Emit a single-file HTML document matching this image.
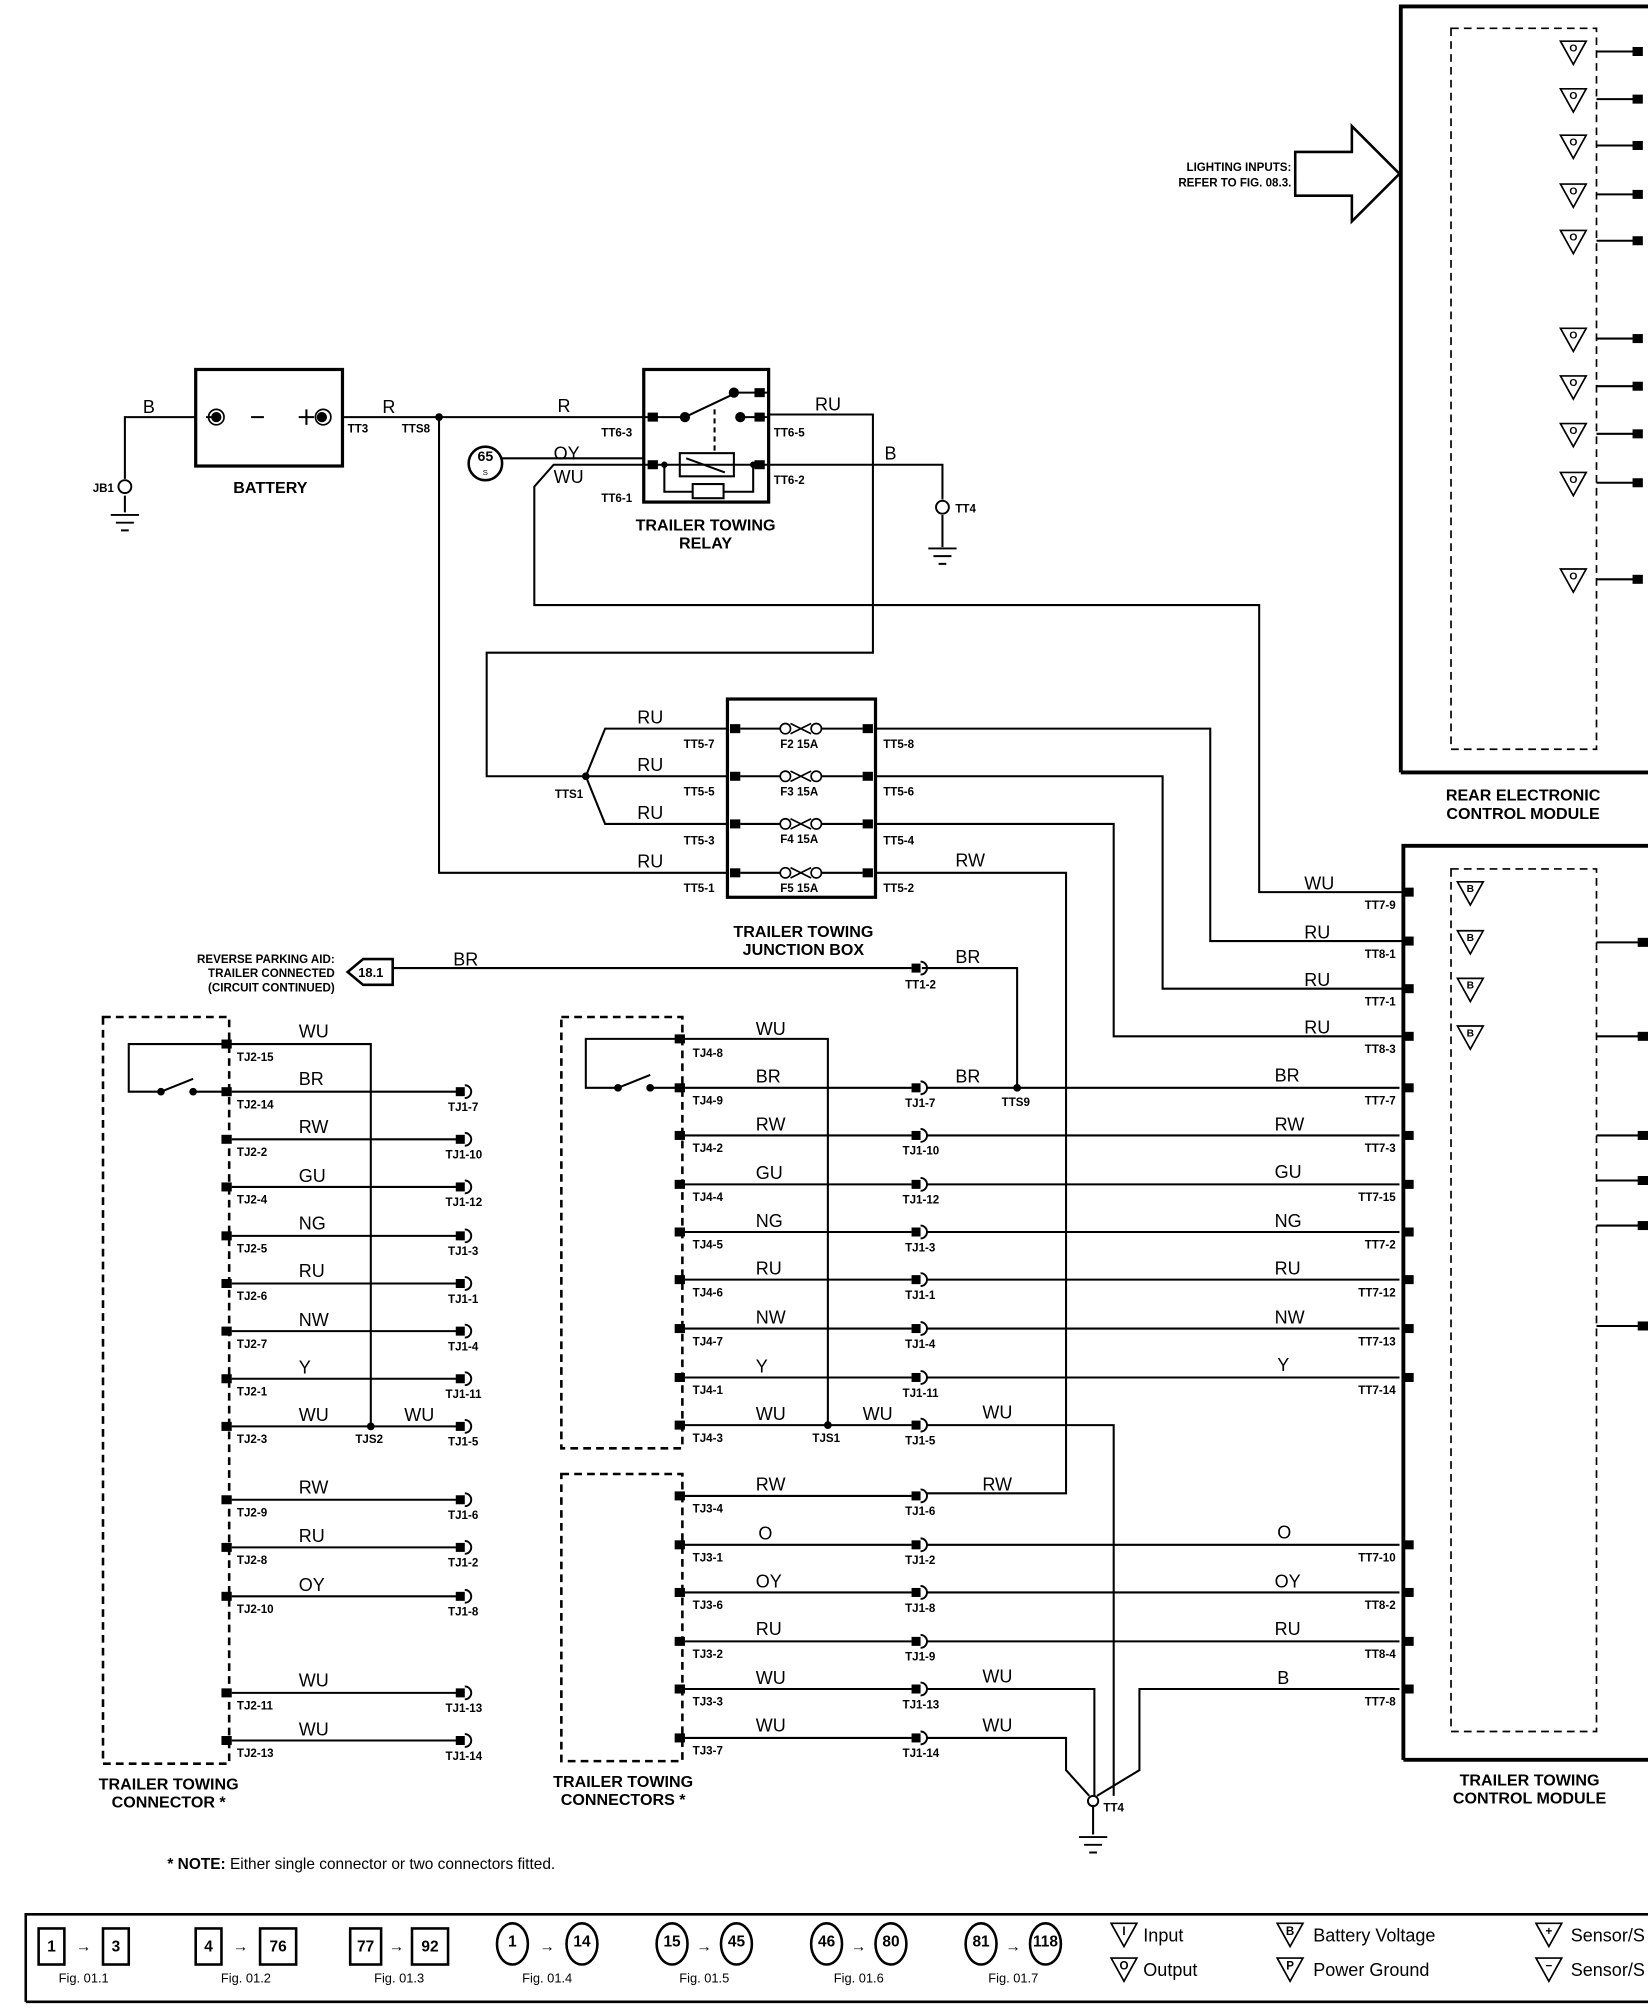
<!DOCTYPE html>
<html><head><meta charset="utf-8"><style>
html,body{margin:0;padding:0;background:#fff;}
svg{display:block;}
text{font-family:"Liberation Sans",sans-serif;fill:#000;}
.w{font-size:14px;}
.p{font-size:9px;font-weight:bold;}
.t{font-size:12.5px;font-weight:bold;}
.l{font-size:13px;}
</style></head><body>
<svg width="1648" height="2016" viewBox="0 0 1280 1566" preserveAspectRatio="none" xmlns="http://www.w3.org/2000/svg">
<defs>
<g id="c"><rect x="-6" y="-3.5" width="7" height="7" fill="#000"/><path d="M1,-5 A5,5 0 0 1 1,5" fill="none" stroke="#000" stroke-width="1.5"/></g>
<g id="p"><rect x="-4" y="-3.5" width="8" height="7" fill="#000"/></g>
<g id="g" fill="none" stroke="#000" stroke-width="1.5"><path d="M-11,0H11M-7,6H7M-3,12H3"/></g>
<g id="tri"><path d="M-10,-8H10L0,10Z" fill="none" stroke="#000" stroke-width="1.3"/></g>
<g id="f" fill="none" stroke="#000" stroke-width="1.3"><circle cx="-12" cy="0" r="4"/><circle cx="12" cy="0" r="4"/><path d="M-8,-4L8,4M-8,4L8,-4"/></g>
</defs>
<g fill="none" stroke="#000" stroke-width="1.6">
<path d="M1088,600V5H1280" stroke-width="3"/>
<path d="M1088,600H1280" stroke-width="3"/>
<rect x="1127" y="22" width="113" height="560" stroke-dasharray="6,4" stroke-width="1.3"/>
<path d="M1240,40H1270M1240,77H1270M1240,113H1270M1240,151H1270M1240,187H1270M1240,263H1270M1240,300H1270M1240,337H1270M1240,375H1270M1240,450H1270"/>
<path d="M1006,118H1050V98L1087,135L1050,172V152H1006Z" stroke-width="2"/>
<path d="M1090,1367V657H1280M1090,1367H1280" stroke-width="3"/>
<rect x="1127" y="675" width="113" height="670" stroke-dasharray="6,4" stroke-width="1.3"/>
<path d="M1240,732H1275M1240,805H1275M1240,882H1275M1240,917H1275M1240,952H1275M1240,1030H1275"/>
<rect x="152" y="287" width="114" height="75" stroke-width="2.5"/>
<path d="M97,372V324H152M97,385V398"/>
<path d="M160,324H165M232,324H244M238,318V330M195,324H205"/>
<path d="M266,324H500"/>
<path d="M341,324V678H565"/>
<rect x="500" y="287" width="97" height="103" stroke-width="2.5"/>
<path d="M500,324H532L570,306M570,305H597M575,324H597M500,361H597" />
<path d="M555,318V350" stroke-dasharray="4,3"/>
<rect x="528" y="352" width="42" height="18"/>
<path d="M533,356L563,367"/>
<path d="M516,361V382H538M562,382H585V361"/>
<rect x="538" y="376" width="24" height="11"/>
<path d="M597,322H678V507H378V603H455"/>
<path d="M597,361H732V388M732,400V425"/>
<path d="M390,356H500"/>
<path d="M500,361H430L415,378V470H978V693H1090"/>
<rect x="565" y="543" width="115" height="154" stroke-width="2.5"/>
<path d="M455,603L470,566H565M455,603H565M455,603L470,640H565"/>
<path d="M575,566H606M638,566H670M575,603H606M638,603H670M575,640H606M638,640H670M575,678H606M638,678H670"/>
<path d="M680,566H940V731H1090M680,603H903V768H1090M680,640H865V805H1090M680,678H828V1160H720"/>
<path d="M305,752H708M716,752H790V845"/>
<path d="M270,755L282,745H305V765H282Z" stroke-width="2"/>
<rect x="80" y="790" width="98" height="580" stroke-dasharray="6,4" stroke-width="2"/>
<path d="M175,811H288V1108M175,811H100V848H125L150,838M150,848H175"/>
<path d="M180,848H355M180,885H355M180,922H355M180,960H355M180,997H355M180,1034H355M180,1071H355M180,1108H355M180,1165H355M180,1202H355M180,1240H355M180,1315H355M180,1352H355"/>
<rect x="436" y="790" width="94" height="335" stroke-dasharray="6,4" stroke-width="2"/>
<rect x="436" y="1145" width="94" height="223" stroke-dasharray="6,4" stroke-width="2"/>
<path d="M527,807H643V1107M527,807H455V845H480L505,835M505,845H527"/>
<path d="M532,845H708M532,882H708M532,920H708M532,957H708M532,994H708M532,1032H708M532,1070H708M532,1107H708M532,1162H708M532,1200H708M532,1237H708M532,1275H708M532,1312H708M532,1350H708"/>
<path d="M720,845H1087M720,882H1087M720,920H1087M720,957H1087M720,994H1087M720,1032H1087M720,1070H1087M720,1200H1087M720,1237H1087M720,1275H1087"/>
<path d="M720,1107H865V1395M720,1312H850V1395M720,1350H828V1375L846,1395M1087,1312H885V1375L852,1395M849,1402V1425"/>
</g>
<use href="#f" x="622" y="566"/><use href="#f" x="622" y="603"/><use href="#f" x="622" y="640"/><use href="#f" x="622" y="678"/>
<g fill="#000">
<circle cx="341" cy="324" r="3"/><circle cx="455" cy="603" r="3"/><circle cx="790" cy="845" r="3"/>
<circle cx="288" cy="1108" r="3"/><circle cx="643" cy="1107" r="3"/>
<circle cx="532" cy="324" r="4"/><circle cx="570" cy="305" r="4"/><circle cx="575" cy="324" r="4"/><circle cx="516" cy="361" r="2.5"/><circle cx="585" cy="361" r="2.5"/>
<circle cx="125" cy="848" r="3"/><circle cx="150" cy="848" r="3"/><circle cx="480" cy="845" r="3"/><circle cx="505" cy="845" r="3"/>
<circle cx="168" cy="324" r="4"/><circle cx="250" cy="324" r="4"/>
</g>
<circle cx="168" cy="324" r="6" fill="none" stroke="#000" stroke-width="1.3"/>
<circle cx="251" cy="324" r="6" fill="none" stroke="#000" stroke-width="1.3"/>
<circle cx="97" cy="378" r="5" fill="none" stroke="#000" stroke-width="1.5"/>
<circle cx="732" cy="394" r="5" fill="none" stroke="#000" stroke-width="1.5"/>
<circle cx="849" cy="1399" r="4" fill="none" stroke="#000" stroke-width="1.5"/>
<use href="#g" x="97" y="400"/><use href="#g" x="732" y="426"/><use href="#g" x="849" y="1427"/>
<use href="#p" x="507" y="324"/><use href="#p" x="507" y="361"/><use href="#p" x="590" y="324"/><use href="#p" x="590" y="305"/><use href="#p" x="590" y="361"/>
<circle cx="377" cy="360" r="13" fill="none" stroke="#000" stroke-width="2"/>
<use href="#p" x="571" y="566"/><use href="#p" x="571" y="603"/><use href="#p" x="571" y="640"/><use href="#p" x="571" y="678"/>
<use href="#p" x="674" y="566"/><use href="#p" x="674" y="603"/><use href="#p" x="674" y="640"/><use href="#p" x="674" y="678"/>
<g>
<use href="#p" x="1272" y="40"/><use href="#p" x="1272" y="77"/><use href="#p" x="1272" y="113"/><use href="#p" x="1272" y="151"/><use href="#p" x="1272" y="187"/><use href="#p" x="1272" y="263"/><use href="#p" x="1272" y="300"/><use href="#p" x="1272" y="337"/><use href="#p" x="1272" y="375"/><use href="#p" x="1272" y="450"/>
<use href="#tri" x="1222" y="40"/><use href="#tri" x="1222" y="77"/><use href="#tri" x="1222" y="113"/><use href="#tri" x="1222" y="151"/><use href="#tri" x="1222" y="187"/><use href="#tri" x="1222" y="263"/><use href="#tri" x="1222" y="300"/><use href="#tri" x="1222" y="337"/><use href="#tri" x="1222" y="375"/><use href="#tri" x="1222" y="450"/>
<use href="#tri" x="1142" y="693"/><use href="#tri" x="1142" y="731"/><use href="#tri" x="1142" y="768"/><use href="#tri" x="1142" y="805"/>
<use href="#p" x="1276" y="732"/><use href="#p" x="1276" y="805"/><use href="#p" x="1276" y="882"/><use href="#p" x="1276" y="917"/><use href="#p" x="1276" y="952"/><use href="#p" x="1276" y="1030"/>
</g>
<g font-size="8" font-weight="bold" text-anchor="middle">
<text x="1222" y="40">O</text><text x="1222" y="77">O</text><text x="1222" y="113">O</text><text x="1222" y="151">O</text><text x="1222" y="187">O</text><text x="1222" y="263">O</text><text x="1222" y="300">O</text><text x="1222" y="337">O</text><text x="1222" y="375">O</text><text x="1222" y="450">O</text>
<text x="1142" y="693">B</text><text x="1142" y="731">B</text><text x="1142" y="768">B</text><text x="1142" y="805">B</text>
</g>
<g>
<use href="#p" x="1094" y="693"/><use href="#p" x="1094" y="731"/><use href="#p" x="1094" y="768"/><use href="#p" x="1094" y="805"/><use href="#p" x="1094" y="845"/><use href="#p" x="1094" y="882"/><use href="#p" x="1094" y="920"/><use href="#p" x="1094" y="957"/><use href="#p" x="1094" y="994"/><use href="#p" x="1094" y="1032"/><use href="#p" x="1094" y="1070"/><use href="#p" x="1094" y="1200"/><use href="#p" x="1094" y="1237"/><use href="#p" x="1094" y="1275"/><use href="#p" x="1094" y="1312"/>
</g>
<g>
<use href="#p" x="176" y="811"/><use href="#p" x="176" y="848"/><use href="#p" x="176" y="885"/><use href="#p" x="176" y="922"/><use href="#p" x="176" y="960"/><use href="#p" x="176" y="997"/><use href="#p" x="176" y="1034"/><use href="#p" x="176" y="1071"/><use href="#p" x="176" y="1108"/><use href="#p" x="176" y="1165"/><use href="#p" x="176" y="1202"/><use href="#p" x="176" y="1240"/><use href="#p" x="176" y="1315"/><use href="#p" x="176" y="1352"/>
<use href="#c" x="360" y="848"/><use href="#c" x="360" y="885"/><use href="#c" x="360" y="922"/><use href="#c" x="360" y="960"/><use href="#c" x="360" y="997"/><use href="#c" x="360" y="1034"/><use href="#c" x="360" y="1071"/><use href="#c" x="360" y="1108"/><use href="#c" x="360" y="1165"/><use href="#c" x="360" y="1202"/><use href="#c" x="360" y="1240"/><use href="#c" x="360" y="1315"/><use href="#c" x="360" y="1352"/>
<use href="#p" x="528" y="807"/><use href="#p" x="528" y="845"/><use href="#p" x="528" y="882"/><use href="#p" x="528" y="920"/><use href="#p" x="528" y="957"/><use href="#p" x="528" y="994"/><use href="#p" x="528" y="1032"/><use href="#p" x="528" y="1070"/><use href="#p" x="528" y="1107"/><use href="#p" x="528" y="1162"/><use href="#p" x="528" y="1200"/><use href="#p" x="528" y="1237"/><use href="#p" x="528" y="1275"/><use href="#p" x="528" y="1312"/><use href="#p" x="528" y="1350"/>
<use href="#c" x="714" y="752"/><use href="#c" x="714" y="845"/><use href="#c" x="714" y="882"/><use href="#c" x="714" y="920"/><use href="#c" x="714" y="957"/><use href="#c" x="714" y="994"/><use href="#c" x="714" y="1032"/><use href="#c" x="714" y="1070"/><use href="#c" x="714" y="1107"/><use href="#c" x="714" y="1162"/><use href="#c" x="714" y="1200"/><use href="#c" x="714" y="1237"/><use href="#c" x="714" y="1275"/><use href="#c" x="714" y="1312"/><use href="#c" x="714" y="1350"/>
</g>
<g class="t" text-anchor="middle">
<text x="210" y="383">BATTERY</text>
<text x="548" y="412">TRAILER TOWING</text><text x="548" y="426">RELAY</text>
<text x="624" y="728">TRAILER TOWING</text><text x="624" y="742">JUNCTION BOX</text>
<text x="1183" y="622">REAR ELECTRONIC</text><text x="1183" y="636">CONTROL MODULE</text>
<text x="1188" y="1387">TRAILER TOWING</text><text x="1188" y="1401">CONTROL MODULE</text>
<text x="131" y="1390">TRAILER TOWING</text><text x="131" y="1404">CONNECTOR *</text>
<text x="484" y="1388">TRAILER TOWING</text><text x="484" y="1402">CONNECTORS *</text>
</g>
<g font-size="9" font-weight="bold" text-anchor="end">
<text x="1003" y="133">LIGHTING INPUTS:</text><text x="1003" y="145">REFER TO FIG. 08.3.</text>
<text x="260" y="748">REVERSE PARKING AID:</text><text x="260" y="759">TRAILER CONNECTED</text><text x="260" y="770">(CIRCUIT CONTINUED)</text>
</g>
<text x="288" y="759" font-size="10" font-weight="bold" text-anchor="middle">18.1</text>
<text x="377" y="358" font-size="11" font-weight="bold" text-anchor="middle">65</text><text x="377" y="369" font-size="6" text-anchor="middle">S</text>
<g class="w">
<text x="111" y="321">B</text><text x="297" y="321">R</text><text x="433" y="320">R</text><text x="633" y="319">RU</text><text x="687" y="357">B</text>
<text x="430" y="357">OY</text><text x="430" y="375">WU</text>
<text x="495" y="562">RU</text><text x="495" y="599">RU</text><text x="495" y="636">RU</text><text x="495" y="674">RU</text><text x="742" y="673">RW</text>
<text x="352" y="750">BR</text><text x="742" y="748">BR</text>
<text x="1013" y="691">WU</text><text x="1013" y="729">RU</text><text x="1013" y="766">RU</text><text x="1013" y="803">RU</text>
<text x="232" y="806">WU</text><text x="232" y="843">BR</text><text x="232" y="880">RW</text><text x="232" y="918">GU</text><text x="232" y="955">NG</text><text x="232" y="992">RU</text><text x="232" y="1030">NW</text><text x="232" y="1067">Y</text><text x="232" y="1104">WU</text><text x="314" y="1104">WU</text><text x="232" y="1160">RW</text><text x="232" y="1198">RU</text><text x="232" y="1236">OY</text><text x="232" y="1310">WU</text><text x="232" y="1348">WU</text>
<text x="587" y="804">WU</text><text x="587" y="841">BR</text><text x="587" y="878">RW</text><text x="587" y="916">GU</text><text x="587" y="953">NG</text><text x="587" y="990">RU</text><text x="587" y="1028">NW</text><text x="587" y="1066">Y</text><text x="587" y="1103">WU</text><text x="670" y="1103">WU</text><text x="763" y="1102">WU</text>
<text x="742" y="841">BR</text>
<text x="587" y="1158">RW</text><text x="763" y="1158">RW</text><text x="589" y="1196">O</text><text x="587" y="1233">OY</text><text x="587" y="1270">RU</text><text x="587" y="1308">WU</text><text x="763" y="1307">WU</text><text x="587" y="1345">WU</text><text x="763" y="1345">WU</text>
<text x="990" y="840">BR</text><text x="990" y="878">RW</text><text x="990" y="915">GU</text><text x="990" y="953">NG</text><text x="990" y="990">RU</text><text x="990" y="1028">NW</text><text x="992" y="1065">Y</text><text x="992" y="1195">O</text><text x="990" y="1233">OY</text><text x="990" y="1270">RU</text><text x="992" y="1308">B</text>
</g>
<g class="p">
<text x="72" y="382">JB1</text><text x="270" y="336">TT3</text><text x="312" y="336">TTS8</text>
<text x="467" y="339">TT6-3</text><text x="467" y="390">TT6-1</text><text x="601" y="339">TT6-5</text><text x="601" y="376">TT6-2</text><text x="742" y="398">TT4</text>
<text x="431" y="620">TTS1</text>
<text x="531" y="581">TT5-7</text><text x="531" y="618">TT5-5</text><text x="531" y="656">TT5-3</text><text x="531" y="693">TT5-1</text>
<text x="686" y="581">TT5-8</text><text x="686" y="618">TT5-6</text><text x="686" y="656">TT5-4</text><text x="686" y="693">TT5-2</text>
<text x="606" y="581">F2 15A</text><text x="606" y="618">F3 15A</text><text x="606" y="655">F4 15A</text><text x="606" y="693">F5 15A</text>
<text x="703" y="768">TT1-2</text><text x="778" y="859">TTS9</text>
<text x="184" y="824">TJ2-15</text><text x="184" y="861">TJ2-14</text><text x="184" y="898">TJ2-2</text><text x="184" y="935">TJ2-4</text><text x="184" y="973">TJ2-5</text><text x="184" y="1010">TJ2-6</text><text x="184" y="1047">TJ2-7</text><text x="184" y="1084">TJ2-1</text><text x="184" y="1121">TJ2-3</text><text x="184" y="1178">TJ2-9</text><text x="184" y="1215">TJ2-8</text><text x="184" y="1253">TJ2-10</text><text x="184" y="1328">TJ2-11</text><text x="184" y="1365">TJ2-13</text>
<text x="276" y="1121">TJS2</text><text x="631" y="1120">TJS1</text>
<text x="348" y="863">TJ1-7</text><text x="346" y="900">TJ1-10</text><text x="346" y="937">TJ1-12</text><text x="348" y="975">TJ1-3</text><text x="348" y="1012">TJ1-1</text><text x="348" y="1049">TJ1-4</text><text x="346" y="1086">TJ1-11</text><text x="348" y="1123">TJ1-5</text><text x="348" y="1180">TJ1-6</text><text x="348" y="1217">TJ1-2</text><text x="348" y="1255">TJ1-8</text><text x="346" y="1330">TJ1-13</text><text x="346" y="1367">TJ1-14</text>
<text x="538" y="821">TJ4-8</text><text x="538" y="858">TJ4-9</text><text x="538" y="895">TJ4-2</text><text x="538" y="933">TJ4-4</text><text x="538" y="970">TJ4-5</text><text x="538" y="1007">TJ4-6</text><text x="538" y="1045">TJ4-7</text><text x="538" y="1083">TJ4-1</text><text x="538" y="1120">TJ4-3</text>
<text x="538" y="1175">TJ3-4</text><text x="538" y="1213">TJ3-1</text><text x="538" y="1250">TJ3-6</text><text x="538" y="1288">TJ3-2</text><text x="538" y="1325">TJ3-3</text><text x="538" y="1363">TJ3-7</text>
<text x="703" y="860">TJ1-7</text><text x="701" y="897">TJ1-10</text><text x="701" y="935">TJ1-12</text><text x="703" y="972">TJ1-3</text><text x="703" y="1009">TJ1-1</text><text x="703" y="1047">TJ1-4</text><text x="701" y="1085">TJ1-11</text><text x="703" y="1122">TJ1-5</text><text x="703" y="1177">TJ1-6</text><text x="703" y="1215">TJ1-2</text><text x="703" y="1252">TJ1-8</text><text x="703" y="1290">TJ1-9</text><text x="701" y="1327">TJ1-13</text><text x="701" y="1365">TJ1-14</text>
<text x="857" y="1407">TT4</text>
</g>
<g class="p" text-anchor="end">
<text x="1084" y="706">TT7-9</text><text x="1084" y="744">TT8-1</text><text x="1084" y="781">TT7-1</text><text x="1084" y="818">TT8-3</text><text x="1084" y="858">TT7-7</text><text x="1084" y="895">TT7-3</text><text x="1084" y="933">TT7-15</text><text x="1084" y="970">TT7-2</text><text x="1084" y="1007">TT7-12</text><text x="1084" y="1045">TT7-13</text><text x="1084" y="1083">TT7-14</text><text x="1084" y="1213">TT7-10</text><text x="1084" y="1250">TT8-2</text><text x="1084" y="1288">TT8-4</text><text x="1084" y="1325">TT7-8</text>
</g>
<text x="130" y="1452" font-size="12"><tspan font-weight="bold">* NOTE:</tspan> Either single connector or two connectors fitted.</text>
<path d="M20,1555V1487H1280M20,1555H1280" fill="none" stroke="#000" stroke-width="2"/>
<g fill="none" stroke="#000" stroke-width="2">
<rect x="30" y="1498" width="20" height="28"/><rect x="80" y="1498" width="20" height="28"/>
<rect x="152" y="1498" width="20" height="28"/><rect x="202" y="1498" width="28" height="28"/>
<rect x="272" y="1498" width="24" height="28"/><rect x="320" y="1498" width="28" height="28"/>
<ellipse cx="398" cy="1510" rx="12" ry="16"/><ellipse cx="452" cy="1510" rx="12" ry="16"/>
<ellipse cx="522" cy="1510" rx="12" ry="16"/><ellipse cx="572" cy="1510" rx="12" ry="16"/>
<ellipse cx="642" cy="1510" rx="12" ry="16"/><ellipse cx="692" cy="1510" rx="12" ry="16"/>
<ellipse cx="762" cy="1510" rx="12" ry="16"/><ellipse cx="812" cy="1510" rx="12" ry="16"/>
</g>
<g fill="#000" font-size="12" font-weight="bold" text-anchor="middle">
<text x="40" y="1516">1</text><text x="90" y="1516">3</text><text x="162" y="1516">4</text><text x="216" y="1516">76</text><text x="284" y="1516">77</text><text x="334" y="1516">92</text>
<text x="398" y="1512">1</text><text x="452" y="1512">14</text><text x="522" y="1512">15</text><text x="572" y="1512">45</text><text x="642" y="1512">46</text><text x="692" y="1512">80</text><text x="762" y="1512">81</text><text x="812" y="1512">118</text>
<text x="65" y="1516">→</text><text x="187" y="1516">→</text><text x="308" y="1516">→</text><text x="425" y="1516">→</text><text x="547" y="1516">→</text><text x="667" y="1516">→</text><text x="787" y="1516">→</text>
</g>
<g font-size="10" text-anchor="middle">
<text x="65" y="1540">Fig. 01.1</text><text x="191" y="1540">Fig. 01.2</text><text x="310" y="1540">Fig. 01.3</text><text x="425" y="1540">Fig. 01.4</text><text x="547" y="1540">Fig. 01.5</text><text x="667" y="1540">Fig. 01.6</text><text x="787" y="1540">Fig. 01.7</text>
</g>
<use href="#tri" x="873" y="1502"/><use href="#tri" x="873" y="1529"/><use href="#tri" x="1002" y="1502"/><use href="#tri" x="1002" y="1529"/><use href="#tri" x="1203" y="1502"/><use href="#tri" x="1203" y="1529"/>
<g font-size="9" font-weight="bold" text-anchor="middle"><text x="873" y="1503">I</text><text x="873" y="1530">O</text><text x="1002" y="1503">B</text><text x="1002" y="1530">P</text><text x="1203" y="1503">+</text><text x="1203" y="1530">−</text></g>
<g font-size="14"><text x="888" y="1508">Input</text><text x="888" y="1535">Output</text><text x="1020" y="1508">Battery Voltage</text><text x="1020" y="1535">Power Ground</text><text x="1220" y="1508">Sensor/S</text><text x="1220" y="1535">Sensor/S</text></g>
</svg>
</body></html>
